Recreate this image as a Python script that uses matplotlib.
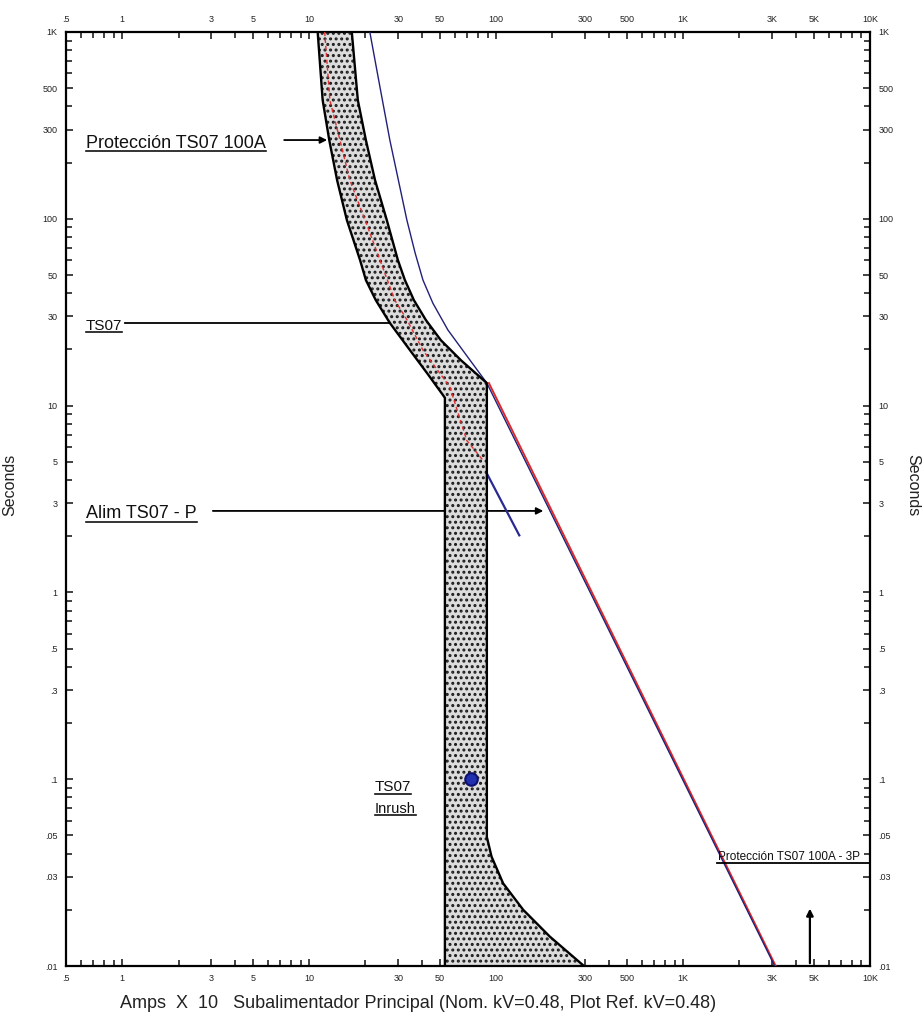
import matplotlib.pyplot as plt
from matplotlib.lines import Line2D
from matplotlib.ticker import FixedLocator, FixedFormatter

plt.rcParams['font.family'] = ['Liberation Sans', 'DejaVu Sans']
plt.rcParams['hatch.linewidth'] = 1.4

# band (TS07 / Protección TS07 100A), amps x10 vs seconds
band_left_amps = [11.1, 11.8, 12.8, 14.1, 15.9, 18.7, 20.1, 22.7, 27.0, 34.6, 43.4, 51.9, 53.2, 53.2]
band_left_secs = [1000, 432, 264, 161, 98.5, 60.2, 47.0, 36.7, 27.7, 19.8, 14.6, 11.4, 11.0, 0.01]
band_right_amps = [16.9, 18.2, 20.1, 22.5, 26.0, 29.8, 32.5, 36.3, 42.1, 50.6, 64.8, 89.2,
                   89.2, 94.5, 109, 139.5, 194, 295]
band_right_secs = [1000, 432, 264, 161, 98.5, 60.2, 47.0, 36.7, 28.7, 22.4, 17.5, 13.2,
                   0.049, 0.0385, 0.0277, 0.020, 0.01435, 0.01]

# red dashed curve inside the band
red_dash_amps = [12.1, 12.9, 14.6, 16.5, 19.9, 23.9, 28.7, 33.4, 40.6, 56.5, 69.7, 85]
red_dash_secs = [1000, 432, 264, 161, 98.5, 60.2, 36.7, 28.7, 19.8, 12.6, 6.5, 5.1]

# Alim TS07 - P (navy) and red damage line
navy_amps = [21.1, 23.9, 27.0, 33.3, 36.9, 40.6, 45.9, 55.2, 68.0, 89.2, 3090]
navy_secs = [1000, 508, 264, 98.5, 65.4, 47.0, 35.3, 25.4, 19.1, 13.2, 0.01]
red_line_amps = [91.5, 3130]
red_line_secs = [13.2, 0.01]
navy_short_amps = [89, 133]
navy_short_secs = [4.35, 2.02]

inrush_amps = [73]
inrush_secs = [0.1]
fault_amps = 4770

x_ticks = [0.5, 1, 3, 5, 10, 30, 50, 100, 300, 500, 1000, 3000, 5000, 10000]
x_labels = ['.5', '1', '3', '5', '10', '30', '50', '100', '300', '500', '1K', '3K', '5K', '10K']
y_ticks = [1000, 500, 300, 100, 50, 30, 10, 5, 3, 1, 0.5, 0.3, 0.1, 0.05, 0.03, 0.01]
y_labels = ['1K', '500', '300', '100', '50', '30', '10', '5', '3', '1', '.5', '.3', '.1', '.05', '.03', '.01']

fig = plt.figure(figsize=(9.24, 10.21), dpi=100)
ax = fig.add_axes([66 / 924, 1 - 966 / 1021, 804 / 924, 934 / 1021])
ax.set_xscale('log')
ax.set_yscale('log')
ax.set_xlim(0.5, 10000)
ax.set_ylim(0.01, 1000)

# minor ticks at every integer multiple
minor_x = [m * 10 ** e for e in range(-1, 4) for m in range(1, 10) if 0.5 <= m * 10 ** e <= 10000]
minor_y = [m * 10 ** e for e in range(-2, 3) for m in range(1, 10)] + [1000]
ax.xaxis.set_major_locator(FixedLocator(x_ticks))
ax.xaxis.set_major_formatter(FixedFormatter(x_labels))
ax.xaxis.set_minor_locator(FixedLocator(minor_x))
ax.yaxis.set_major_locator(FixedLocator(y_ticks))
ax.yaxis.set_major_formatter(FixedFormatter(y_labels))
ax.yaxis.set_minor_locator(FixedLocator(minor_y))
ax.tick_params(which='both', direction='in', top=True, right=True, labeltop=True, labelright=True,
               labelsize=6.5, width=1.2, colors='#222222')
ax.tick_params(which='major', length=5, pad=6)
ax.tick_params(which='minor', length=4)
ax.xaxis.set_minor_formatter(plt.NullFormatter())
ax.yaxis.set_minor_formatter(plt.NullFormatter())
for s in ax.spines.values():
    s.set_linewidth(1.6)

# shaded band
poly_x = band_left_amps + band_right_amps[::-1]
poly_y = band_left_secs + band_right_secs[::-1]
ax.fill(poly_x, poly_y, facecolor='#dcdcdc', edgecolor='#1a1a1a', hatch='...', linewidth=0, zorder=2)
ax.plot(band_left_amps, band_left_secs, color='black', lw=1.7, zorder=4)
ax.plot(band_right_amps, band_right_secs, color='black', lw=1.7, zorder=4)

ax.plot(red_dash_amps, red_dash_secs, color='#e03030', lw=1.0, ls=(0, (3, 2)), zorder=3)
ax.plot(red_line_amps, red_line_secs, color='#e02828', lw=1.4, zorder=3)
ax.plot(navy_amps, navy_secs, color='#20207a', lw=1.0, zorder=3)
ax.plot(navy_short_amps, navy_short_secs, color='#2a2a90', lw=1.6, zorder=3)
ax.plot(inrush_amps, inrush_secs, 'o', ms=9, mfc='#2030b0', mec='#101070', mew=1.5, zorder=5)

# annotations
texts = []
texts.append(ax.text(0.64, 240, 'Protección TS07 100A', fontsize=13, color='#111111', va='baseline'))
ax.annotate('', xy=(12.9, 264), xytext=(7.1, 264),
            arrowprops=dict(arrowstyle='-|>', color='black', lw=1.3, mutation_scale=10), zorder=6)
texts.append(ax.text(0.64, 25.5, 'TS07', fontsize=11, color='#111111', va='baseline'))
ax.plot([1.03, 27.0], [27.7, 27.7], color='black', lw=1.3, zorder=1)
texts.append(ax.text(0.64, 2.5, 'Alim TS07 - P', fontsize=13, color='#111111', va='baseline'))
ax.annotate('', xy=(185, 2.73), xytext=(2.95, 2.73),
            arrowprops=dict(arrowstyle='-|>', color='black', lw=1.3, mutation_scale=10), zorder=1)
texts.append(ax.text(22.5, 0.086, 'TS07', fontsize=11, color='#111111', va='baseline'))
texts.append(ax.text(22.5, 0.066, 'Inrush', fontsize=10.5, color='#111111', va='baseline'))

ax.text(1530, 0.037, 'Protección TS07 100A - 3P', fontsize=8.5, color='#111111', va='baseline')
ax.plot([1514, 10000], [0.0355, 0.0355], color='black', lw=1.3, zorder=3)
ax.annotate('', xy=(fault_amps, 0.021), xytext=(fault_amps, 0.01),
            arrowprops=dict(arrowstyle='-|>', color='black', lw=1.6, mutation_scale=10), zorder=6)

fig.text(10 / 924, 1 - 485 / 1021, 'Seconds', rotation=90, ha='center', va='center', fontsize=11.5, color='#222222')
fig.text(913 / 924, 1 - 485 / 1021, 'Seconds', rotation=270, ha='center', va='center', fontsize=11.5, color='#222222')
fig.text(120 / 924, 1 - 1003 / 1021, 'Amps  X  10   Subalimentador Principal (Nom. kV=0.48, Plot Ref. kV=0.48)',
         ha='left', va='center', fontsize=13, color='#222222')

# underline the labels
fig.canvas.draw()
renderer = fig.canvas.get_renderer()
inv = fig.transFigure.inverted()
for t in texts:
    bb = t.get_window_extent(renderer).transformed(inv)
    fig.add_artist(Line2D([bb.x0, bb.x1], [bb.y0 + 0.0005, bb.y0 + 0.0005], transform=fig.transFigure,
                          color='#111111', lw=1.2))

fig.savefig('out.png', dpi=100)
